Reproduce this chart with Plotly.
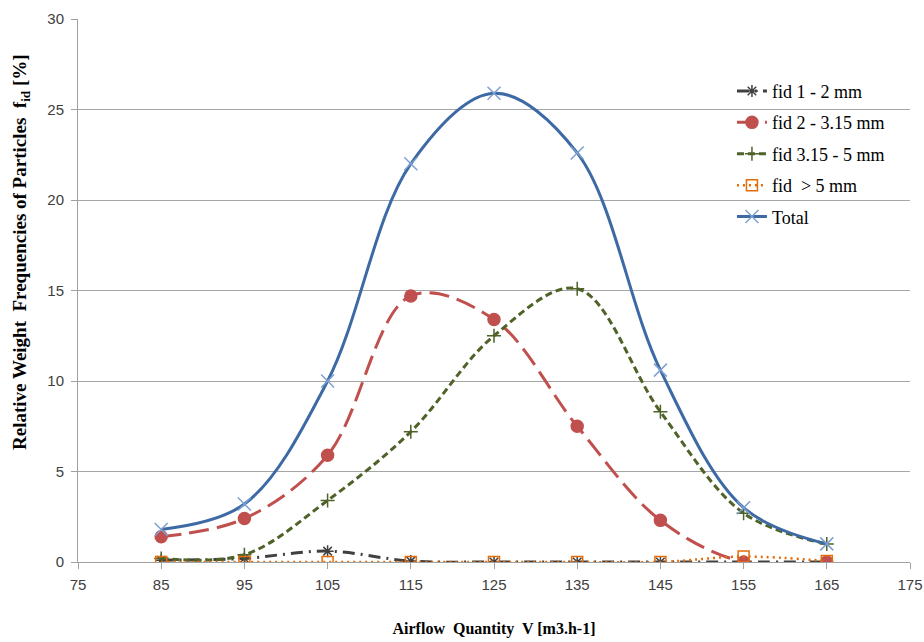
import plotly.graph_objects as go

airflow = [85, 95, 105, 115, 125, 135, 145, 155, 165]
fid_1_2 = [0.1, 0.2, 0.6, 0.05, 0.0, 0.0, 0.0, 0.0, 0.0]
fid_2_315 = [1.4, 2.4, 5.9, 14.7, 13.4, 7.5, 2.3, 0.0, 0.0]
fid_315_5 = [0.2, 0.4, 3.4, 7.2, 12.5, 15.1, 8.3, 2.7, 1.0]
fid_gt5 = [0.0, 0.0, 0.0, 0.0, 0.0, 0.0, 0.0, 0.3, 0.05]
total = [1.8, 3.2, 10.0, 22.0, 25.9, 22.6, 10.6, 3.0, 1.0]

x_ticks = [75, 85, 95, 105, 115, 125, 135, 145, 155, 165, 175]
y_ticks = [0, 5, 10, 15, 20, 25, 30]

series = [
    ("fid 1 - 2 mm", fid_1_2, "#404040", "12px,6px,2px,6px", "asterisk-open", 10, 3),
    ("fid 2 - 3.15 mm", fid_2_315, "#C0504D", "20px,8px", "circle", 12, 3),
    ("fid 3.15 - 5 mm", fid_315_5, "#4F6228", "7px,4px", "cross-thin-open", 10, 3),
    ("fid  > 5 mm", fid_gt5, "#E46C0A", "2px,4px", "square-open", 11, 2.5),
    ("Total", total, "#3D6AA5", "solid", "x-thin-open", 13, 3),
]

fig = go.Figure()
for i, (name, vals, color, dash, sym, size, w) in enumerate(series):
    mcolor = color
    if name == "Total":
        mcolor = "#7EA0D0"
    fig.add_trace(go.Scatter(
        x=airflow, y=vals, name=name, mode="lines+markers",
        legendgroup=f"g{i}",
        line=dict(color=color, width=w, dash=dash, shape="spline", smoothing=1.0),
        marker=dict(symbol=sym, size=size, color=mcolor,
                    line=dict(color=mcolor, width=1.5)),
    ))

fig.add_annotation(
    text="<b>Relative Weight  Frequencies of Particles  f<sub>id</sub> [%]</b>",
    xref="paper", yref="paper", x=0, y=0.571, xanchor="center", yanchor="middle",
    xshift=-57, textangle=-90, showarrow=False,
    font=dict(family="Liberation Serif", size=19, color="#000000"),
)

fig.update_layout(
    width=924, height=642,
    paper_bgcolor="white", plot_bgcolor="white",
    margin=dict(l=78, r=14, t=19, b=80, autoexpand=False),
    font=dict(family="Liberation Serif", size=14, color="#000000"),
    showlegend=True,
    legend=dict(
        x=0.786, y=0.901, xanchor="left", yanchor="top",
        traceorder="grouped", tracegroupgap=5,
        font=dict(family="Liberation Serif", size=18, color="#000000"),
        bgcolor="rgba(0,0,0,0)",
    ),
    xaxis=dict(
        range=[75, 175], tickvals=x_ticks, ticktext=[str(t) for t in x_ticks],
        showgrid=False, zeroline=False, showline=True, linecolor="#A0A0A0", linewidth=1,
        ticks="outside", ticklen=6, tickcolor="#A0A0A0", automargin=False,
        ticklabelstandoff=3,
        tickfont=dict(family="Liberation Sans", size=15, color="#404040"),
        title=dict(text="<b>Airflow  Quantity  V [m3.h-1]</b>", standoff=30,
                   font=dict(family="Liberation Serif", size=16, color="#000000")),
    ),
    yaxis=dict(
        range=[0, 30], tickvals=y_ticks,
        showgrid=True, gridcolor="#A6A6A6", gridwidth=1,
        zeroline=False, showline=True, linecolor="#A0A0A0", linewidth=1,
        ticks="outside", ticklen=6, tickcolor="#A0A0A0", automargin=False,
        ticklabelstandoff=4,
        tickfont=dict(family="Liberation Sans", size=15, color="#404040"),
    ),
)

fig.write_html("out.html", config={"displayModeBar": False},
               post_script="document.body.style.margin='0px';")
